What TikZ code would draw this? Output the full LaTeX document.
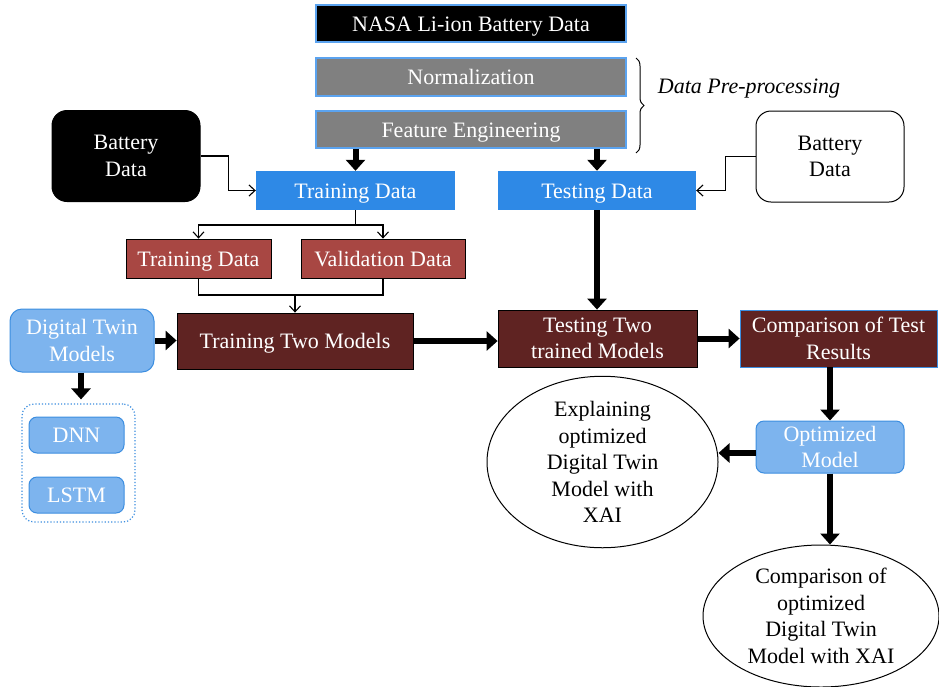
\documentclass[tikz,border=0pt]{standalone}
\usepackage{fontspec}
\setmainfont{Liberation Serif}
\usetikzlibrary{arrows.meta,shapes.geometric,decorations.pathreplacing}
\definecolor{bluebox}{RGB}{46,137,230}
\definecolor{lightblue}{RGB}{125,180,238}
\definecolor{blueline}{RGB}{60,142,224}
\definecolor{paleline}{RGB}{91,163,239}
\definecolor{redbox}{RGB}{168,71,67}
\definecolor{brownbox}{RGB}{95,35,34}
\definecolor{graybox}{RGB}{128,128,128}
\tikzset{
  every node/.style={font=\fontsize{22}{26.5}\selectfont, inner sep=0pt, align=center},
  oneline/.style={text height=19pt, text depth=4pt},
  topbox/.style={rectangle, fill=black, draw=paleline, line width=1.5pt, text=white, minimum width=310pt, oneline},
  graybx/.style={rectangle, fill=graybox, draw=paleline, line width=1.5pt, text=white, minimum width=310pt, oneline},
  bluebx/.style={rectangle, fill=bluebox, text=white, minimum width=199pt, minimum height=39pt, oneline},
  redbx/.style={rectangle, fill=redbox, draw=black, line width=0.8pt, text=white, minimum height=39pt, oneline},
  brownbx/.style={rectangle, fill=brownbox, draw=black, line width=0.8pt, text=white},
  lbbx/.style={rectangle, rounded corners=8pt, fill=lightblue, draw=blueline, line width=1pt, text=white},
  battbx/.style={rectangle, rounded corners=15pt, draw=black, line width=1pt, minimum width=148pt, minimum height=91pt},
  ell/.style={ellipse, draw=black, line width=1pt, fill=white},
  thickarr/.style={line width=6pt, -{Triangle[length=11pt,width=19pt]}},
  thinarr/.style={line width=1.1pt, -{Straight Barb[length=6pt,width=11pt]}},
  plainln/.style={line width=1.1pt},
}
\begin{document}
\begin{tikzpicture}[x=1pt,y=-1pt]
\useasboundingbox (0,0) rectangle (939,686);
\fill[white] (0,0) rectangle (939,686);

% top stack
\node[topbox, minimum height=37pt] (nasa) at (471,23.5) {NASA Li-ion Battery Data};
\node[graybx, minimum height=38pt] (norm) at (471,77) {Normalization};
\node[graybx, minimum height=37pt] (feat) at (471,129.5) {Feature Engineering};
\coordinate (bt) at (636,58);
\coordinate (bb) at (636,153);
\draw[line width=1pt, decorate, decoration={brace, amplitude=8pt}] (bt) -- (bb);
\node[font=\fontsize{22}{26.5}\selectfont\itshape, oneline] (pre) at (749,86) {Data Pre-processing};

% battery data
\node[battbx, fill=black, text=white] (bdl) at (126,156) {Battery\\Data};
\node[battbx, fill=white] (bdr) at (830,156.5) {Battery\\Data};

% training/testing data
\node[bluebx] (trd) at (355.5,190.5) {Training Data};
\node[bluebx, minimum width=198pt] (ted) at (597,190.5) {Testing Data};

\node[redbx, minimum width=145pt] (trd2) at (198.5,258.5) {Training Data};
\node[redbx, minimum width=164pt] (vald) at (383,258.5) {Validation Data};

\node[brownbx, oneline, minimum width=236pt, minimum height=56pt] (ttm) at (295,341) {Training Two Models};
\node[brownbx, minimum width=199pt, minimum height=57pt] (test2) at (597.5,338.5) {Testing Two\\trained Models};
\node[brownbx, draw=blueline, minimum width=197pt, minimum height=57pt] (comp) at (838.5,338.5) {Comparison of Test\\Results};

\node[lbbx, minimum width=148pt, minimum height=52pt] (opt) at (830,447) {Optimized\\Model};

\node[lbbx, rounded corners=12pt, minimum width=144pt, minimum height=63pt] (dtm) at (82,340.5) {Digital Twin\\Models};
\node[rectangle, rounded corners=12pt, draw=blueline, dotted, line width=1.2pt, minimum width=113pt, minimum height=118pt] (cont) at (78.5,463) {};
\node[lbbx, oneline, minimum width=95pt, minimum height=36pt] (dnn) at (76.5,435) {DNN};
\node[lbbx, oneline, minimum width=95pt, minimum height=36pt] (lstm) at (76.5,495) {LSTM};

\node[ell, minimum width=231pt, minimum height=158pt] (ell1) at (602.5,462) {Explaining\\optimized\\Digital Twin\\Model with\\XAI};
\node[ell, minimum width=236pt, minimum height=142pt] (ell2) at (821,616) {Comparison of\\optimized\\Digital Twin\\Model with XAI};

% connectors
\draw[thickarr] (trd.north |- feat.south) -- (trd.north);
\draw[thickarr] (ted.north |- feat.south) -- (ted.north);
\draw[thinarr] (bdl.east) -- ++(28,0) |- (trd.west);
\draw[thinarr] (bdr.west) -- ++(-30,0) |- (ted.east);

\coordinate (sp) at (355.5,225);
\draw[plainln] (trd.south) -- (sp);
\draw[thinarr] (sp) -| (trd2.north);
\draw[thinarr] (sp) -| (vald.north);

\coordinate (jn) at (295,295);
\draw[plainln] (trd2.south) |- (jn) -| (vald.south);
\draw[thinarr] (jn) -- (ttm.north);

\draw[thickarr] (ted.south) -- (ted.south |- test2.north);
\draw[thickarr] (dtm.east) -- (dtm.east -| ttm.west);
\draw[thickarr, shorten >=4pt] (dtm.south -| 81,0) -- (cont.north -| 81,0);
\draw[thickarr] (ttm.east) -- (ttm.east -| test2.west);
\draw[thickarr] (test2.east) -- (comp.west);
\draw[thickarr] (comp.south -| opt.north) -- (opt.north);
\draw[thickarr] (opt.west |- 0,453) -- (ell1.east |- 0,453);
\draw[thickarr] (opt.south) -- (opt.south |- ell2.north);
\end{tikzpicture}
\end{document}
